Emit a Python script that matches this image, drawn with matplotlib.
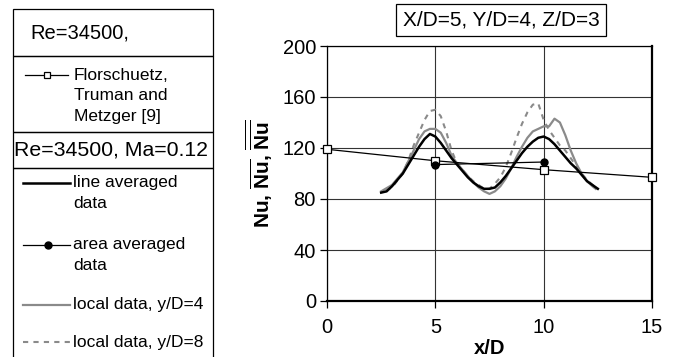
import matplotlib
matplotlib.use("Agg")
import matplotlib.pyplot as plt
from matplotlib.lines import Line2D
from matplotlib.patches import Rectangle

plt.rcParams["font.family"] = ["Liberation Sans", "DejaVu Sans"]
plt.rcParams["mathtext.fontset"] = "custom"
plt.rcParams["mathtext.rm"] = "Liberation Sans"
plt.rcParams["mathtext.bf"] = "Liberation Sans:bold"

# Florschuetz, Truman and Metzger [9]
flor_x = [0, 5, 10, 15]
flor_y = [119, 110, 103, 97]

# area averaged data
area_x = [5, 10]
area_y = [107, 109]

# line averaged data
line_x = [2.5, 2.75, 3.0, 3.25, 3.5, 3.75, 4.0, 4.25, 4.5, 4.75, 5.0, 5.25, 5.5, 5.75,
          6.0, 6.25, 6.5, 6.75, 7.0, 7.25, 7.5, 7.75, 8.0, 8.25, 8.5, 8.75, 9.0, 9.25,
          9.5, 9.75, 10.0, 10.25, 10.5, 10.75, 11.0, 11.25, 11.5, 11.75, 12.0, 12.25, 12.5]
line_y = [85, 86, 90, 95, 100, 107, 114, 121, 127, 131, 129, 124, 118, 112,
          107, 102, 97, 93, 90, 88, 88, 89, 93, 98, 104, 110, 116, 121,
          125, 128, 129, 127, 123, 118, 113, 108, 104, 99, 94, 91, 88]

# local data, y/D=4
loc4_x = [2.5, 3.0, 3.5, 4.0, 4.25, 4.5, 4.75, 5.0, 5.25, 5.5, 5.75, 6.0, 6.25, 6.5,
          6.75, 7.0, 7.25, 7.5, 7.75, 8.0, 8.25, 8.5, 8.75, 9.0, 9.25, 9.5, 9.75,
          10.0, 10.25, 10.5, 10.75, 11.0, 11.25, 11.5, 11.75, 12.0, 12.25, 12.4]
loc4_y = [86, 91, 101, 118, 127, 133, 135, 135, 132, 124, 114, 108, 103, 98,
          93, 89, 86, 84, 86, 90, 96, 104, 113, 121, 128, 133, 135,
          137, 137, 143, 140, 130, 118, 108, 100, 94, 90, 88]

# local data, y/D=8
loc8_x = [2.7, 3.0, 3.5, 3.75, 4.0, 4.25, 4.5, 4.75, 5.0, 5.25, 5.5, 5.75, 6.0, 6.25,
          6.5, 6.75, 7.0, 7.25, 7.5, 7.75, 8.0, 8.25, 8.5, 8.75, 9.0, 9.25, 9.5,
          9.75, 10.0, 10.25, 10.5, 10.75, 11.0, 11.25, 11.5, 11.75, 12.0, 12.25, 12.5]
loc8_y = [87, 89, 100, 110, 122, 132, 142, 149, 150, 145, 133, 118, 108, 103,
          98, 94, 91, 88, 88, 92, 97, 105, 116, 128, 139, 148, 154,
          155, 142, 134, 128, 122, 118, 112, 106, 100, 95, 91, 88]

x_ticks = [0, 5, 10, 15]
y_ticks = [0, 40, 80, 120, 160, 200]

GRAY = "#8a8a8a"
DASH = (0, (2.5, 2.5))

fig = plt.figure(figsize=(6.75, 3.57), dpi=100)
ax = fig.add_axes([327 / 675, 56 / 357, 325 / 675, 255 / 357])

ax.plot(loc8_x, loc8_y, color=GRAY, lw=1.5, ls=DASH, zorder=3)
ax.plot(loc4_x, loc4_y, color=GRAY, lw=1.6, zorder=3)
ax.plot(line_x, line_y, color="black", lw=1.8, zorder=4)
ax.plot(flor_x, flor_y, color="black", lw=0.9, marker="s", ms=6,
        mfc="white", mec="black", mew=0.9, zorder=5, clip_on=False)
ax.plot(area_x, area_y, color="black", lw=0.9, marker="o", ms=5, zorder=5)

ax.set_xlim(0, 15)
ax.set_ylim(0, 200)
ax.set_xticks(x_ticks)
ax.set_yticks(y_ticks)
ax.grid(True, color="#333333", lw=0.8)
ax.tick_params(labelsize=14.5, length=5, width=0.9, direction="out")
ax.tick_params(axis="x", pad=7)
ax.tick_params(axis="y", pad=3)
for s in ["left", "top"]:
    ax.spines[s].set_linewidth(0.9)
for s in ["right", "bottom"]:
    ax.spines[s].set_linewidth(1.6)
ax.set_xlabel("x/D", fontsize=14.5, fontweight="bold", labelpad=2)
ax.set_ylabel(r"$\mathbf{Nu}$, $\overline{\mathbf{Nu}}$, $\overline{\overline{\mathbf{Nu}}}$",
              fontsize=15, fontweight="bold", labelpad=5)

fig.text(501 / 675, 1 - 20 / 357, "X/D=5, Y/D=4, Z/D=3", fontsize=15,
         ha="center", va="center",
         bbox=dict(boxstyle="square,pad=0.3", fc="white", ec="black", lw=0.9))

# legend panel, drawn in pixel coordinates
lg = fig.add_axes([0, 0, 1, 1], facecolor="none")
lg.set_xlim(0, 675)
lg.set_ylim(357, 0)
lg.axis("off")

for y0, y1 in [(9, 56), (56, 132), (132, 168), (168, 360)]:
    lg.add_patch(Rectangle((13, y0), 200, y1 - y0, fill=False, ec="black", lw=0.9))

lg.text(30, 33, "Re=34500,", fontsize=14.5, va="center")
lg.text(14, 150, "Re=34500, Ma=0.12", fontsize=15.3, va="center")

lg.add_line(Line2D([25, 68], [75, 75], color="black", lw=0.9))
lg.add_line(Line2D([47], [75], color="black", marker="s", ms=5, mfc="white", mew=0.9))
lg.text(74, 75, "Florschuetz,", fontsize=12.5, va="center")
lg.text(74, 96, "Truman and", fontsize=12.5, va="center")
lg.text(74, 117, "Metzger [9]", fontsize=12.5, va="center")

lg.add_line(Line2D([23, 70], [183, 183], color="black", lw=1.8))
lg.text(73, 183, "line averaged", fontsize=12.5, va="center")
lg.text(73, 203, "data", fontsize=12.5, va="center")

lg.add_line(Line2D([23, 70], [245, 245], color="black", lw=0.9))
lg.add_line(Line2D([48], [245], color="black", marker="o", ms=5))
lg.text(73, 245, "area averaged", fontsize=12.5, va="center")
lg.text(73, 266, "data", fontsize=12.5, va="center")

lg.add_line(Line2D([23, 70], [305, 305], color=GRAY, lw=1.6))
lg.text(73, 305, "local data, y/D=4", fontsize=12.5, va="center")

lg.add_line(Line2D([23, 72], [342, 342], color=GRAY, lw=1.5, ls=DASH))
lg.text(73, 342, "local data, y/D=8", fontsize=12.5, va="center")

fig.savefig("out.png", dpi=100)
